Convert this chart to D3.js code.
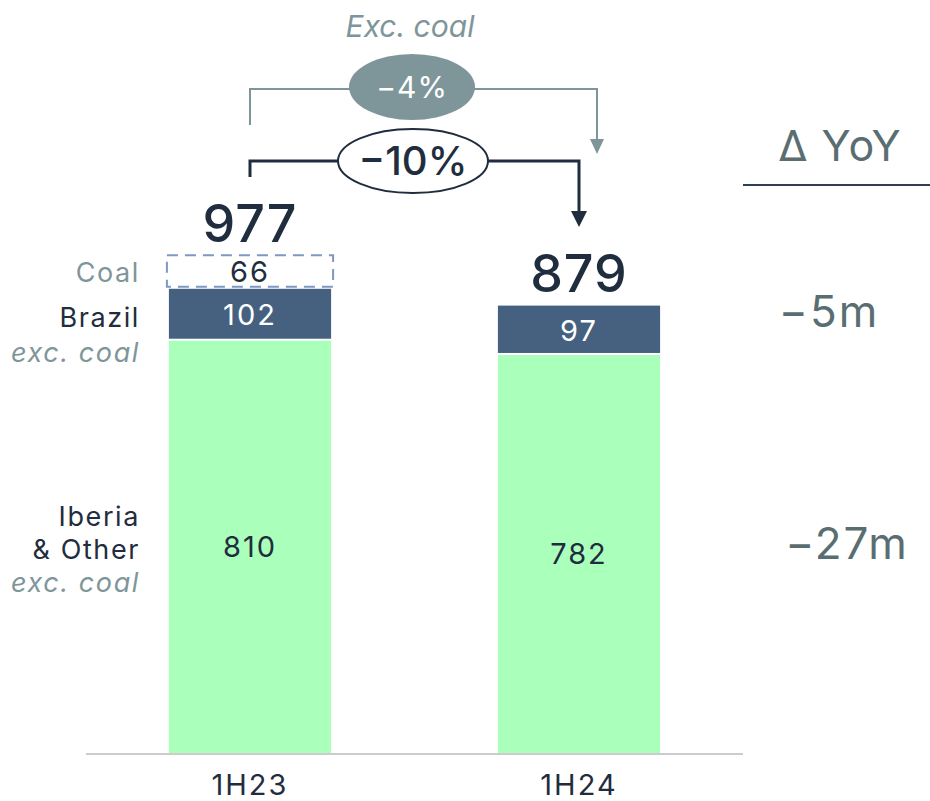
<!DOCTYPE html>
<html>
<head>
<meta charset="utf-8">
<script src="https://cdn.jsdelivr.net/npm/d3@7"></script>
<style>
  body { margin: 0; background: #fff; }
  svg text { font-family: Inter, "Noto Sans", sans-serif; }
</style>
</head>
<body>
<svg id="chart"></svg>
<script>
// data
const periods = ['1H23', '1H24'];
const iberiaOther = [810, 782];
const brazil = [102, 97];
const coal = [66, 0];
const totals = [977, 879];
const yoyLabels = ['−5m', '−27m'];
const totalChange = '−10%';
const exCoalChange = '−4%';

// colours
const green = '#aaffbb';
const blue = '#45617f';
const navy = '#1f2d3e';
const grey = '#7e9699';
const darkGrey = '#5a6e72';

const width = 930, height = 801;
const svg = d3.select('#chart')
    .attr('width', width)
    .attr('height', height);

const x = d3.scaleBand()
    .domain(periods)
    .range([86, 743])
    .paddingInner(0.507)
    .paddingOuter(0.252);

const y = d3.scaleLinear()
    .domain([0, 1000])
    .range([753, 244]);

const rows = periods.map((p, i) => ({
    period: p, iberia: iberiaOther[i], brazil: brazil[i], coal: coal[i], total: totals[i]
}));
const stacked = d3.stack().keys(['iberia', 'brazil', 'coal'])(rows);

// green and blue segments
const gap = 2;
stacked.slice(0, 2).forEach(function(layer, li) {
    svg.append('g').selectAll('rect')
        .data(layer)
        .enter()
        .append('rect')
        .attr('x', d => x(d.data.period))
        .attr('y', d => y(d[1]))
        .attr('width', x.bandwidth())
        .attr('height', d => y(d[0]) - y(d[1]) - (li > 0 ? gap : 0))
        .attr('fill', li == 0 ? green : blue);
});

// coal - dashed outline only
svg.append('g').selectAll('rect')
    .data(stacked[2].filter(d => d[1] > d[0]))
    .enter()
    .append('rect')
    .attr('x', d => x(d.data.period) - 2)
    .attr('y', d => y(d[1]))
    .attr('width', x.bandwidth() + 4)
    .attr('height', d => y(d[0]) - y(d[1]) - gap)
    .attr('fill', 'none')
    .attr('stroke', '#7d98c2')
    .attr('stroke-width', 2)
    .attr('stroke-dasharray', '11,7');

// baseline
svg.append('line')
    .attr('x1', 86).attr('x2', 743)
    .attr('y1', y(0) + 1).attr('y2', y(0) + 1)
    .attr('stroke', '#cccccc')
    .attr('stroke-width', 2);

// segment labels
const segLabel = function(layerIdx, color) {
    svg.append('g').selectAll('text')
        .data(stacked[layerIdx].filter(d => d[1] > d[0]))
        .enter()
        .append('text')
        .attr('x', d => x(d.data.period) + x.bandwidth() / 2)
        .attr('y', d => (y(d[0]) + y(d[1])) / 2)
        .attr('dy', '0.36em')
        .attr('text-anchor', 'middle')
        .attr('font-size', 29)
        .attr('letter-spacing', 2)
        .attr('fill', color)
        .text(d => d[1] - d[0]);
};
segLabel(0, navy);
segLabel(1, '#ffffff');
segLabel(2, navy);

// totals
svg.append('g').selectAll('text')
    .data(rows)
    .enter()
    .append('text')
    .attr('x', d => x(d.period) + x.bandwidth() / 2)
    .attr('y', d => y(d.total) - 14)
    .attr('text-anchor', 'middle')
    .attr('font-size', 52)
    .attr('font-weight', 500)
    .attr('letter-spacing', 1)
    .attr('fill', navy)
    .text(d => d.total);

// x axis labels
svg.append('g').selectAll('text')
    .data(periods)
    .enter()
    .append('text')
    .attr('x', d => x(d) + x.bandwidth() / 2)
    .attr('y', 795)
    .attr('text-anchor', 'middle')
    .attr('font-size', 29)
    .attr('letter-spacing', 2)
    .attr('fill', navy)
    .text(d => d);

// left legend labels
const legend = [
    {t: 'Coal', yy: 282, c: grey, it: false},
    {t: 'Brazil', yy: 327, c: navy, it: false},
    {t: 'exc. coal', yy: 362, c: grey, it: true},
    {t: 'Iberia', yy: 526, c: navy, it: false},
    {t: '& Other', yy: 559, c: navy, it: false},
    {t: 'exc. coal', yy: 592, c: grey, it: true}
];
svg.append('g').selectAll('text')
    .data(legend)
    .enter()
    .append('text')
    .attr('x', 140)
    .attr('y', d => d.yy)
    .attr('text-anchor', 'end')
    .attr('font-size', 27)
    .attr('letter-spacing', 1.6)
    .attr('font-style', d => d.it ? 'italic' : 'normal')
    .attr('fill', d => d.c)
    .text(d => d.t);

// growth brackets
const cx1 = x(periods[0]) + x.bandwidth() / 2;
const cx2 = x(periods[1]) + x.bandwidth() / 2;

// exc. coal bracket (grey)
svg.append('path')
    .attr('d', `M${cx1},125 V89 H${cx2 + 18} V140`)
    .attr('fill', 'none')
    .attr('stroke', grey)
    .attr('stroke-width', 2);
svg.append('path')
    .attr('d', `M${cx2 + 11},139 L${cx2 + 25},139 L${cx2 + 18},154 Z`)
    .attr('fill', grey);
svg.append('ellipse')
    .attr('cx', 412).attr('cy', 87)
    .attr('rx', 63).attr('ry', 33)
    .attr('fill', grey);
svg.append('text')
    .attr('x', 412).attr('y', 87)
    .attr('dy', '0.36em')
    .attr('text-anchor', 'middle')
    .attr('font-size', 30)
    .attr('letter-spacing', 1)
    .attr('fill', '#ffffff')
    .text(exCoalChange);
svg.append('text')
    .attr('x', 410).attr('y', 37)
    .attr('text-anchor', 'middle')
    .attr('font-size', 30)
    .attr('font-style', 'italic')
    .attr('fill', grey)
    .text('Exc. coal');

// total bracket (dark)
svg.append('path')
    .attr('d', `M${cx1},177 V161 H${cx2} V212`)
    .attr('fill', 'none')
    .attr('stroke', navy)
    .attr('stroke-width', 3);
svg.append('path')
    .attr('d', `M${cx2 - 8},211 L${cx2 + 8},211 L${cx2},227 Z`)
    .attr('fill', navy);
svg.append('ellipse')
    .attr('cx', 413).attr('cy', 161)
    .attr('rx', 75).attr('ry', 32)
    .attr('fill', '#ffffff')
    .attr('stroke', navy)
    .attr('stroke-width', 2);
svg.append('text')
    .attr('x', 413).attr('y', 161)
    .attr('dy', '0.36em')
    .attr('text-anchor', 'middle')
    .attr('font-size', 40)
    .attr('font-weight', 500)
    .attr('fill', navy)
    .text(totalChange);

// delta YoY column
svg.append('text')
    .attr('x', 840).attr('y', 161)
    .attr('text-anchor', 'middle')
    .attr('font-size', 43)
    .attr('letter-spacing', 1)
    .attr('fill', darkGrey)
    .text('Δ YoY');
svg.append('line')
    .attr('x1', 743).attr('x2', 930)
    .attr('y1', 185).attr('y2', 185)
    .attr('stroke', '#2c3e55')
    .attr('stroke-width', 2);

const yoyY = [327, 559];
svg.append('g').selectAll('text')
    .data(yoyLabels)
    .enter()
    .append('text')
    .attr('x', (d, i) => i == 0 ? 829 : 847)
    .attr('y', (d, i) => yoyY[i])
    .attr('text-anchor', 'middle')
    .attr('font-size', 44)
    .attr('letter-spacing', 2)
    .attr('fill', darkGrey)
    .text(d => d);
</script>
</body>
</html>
